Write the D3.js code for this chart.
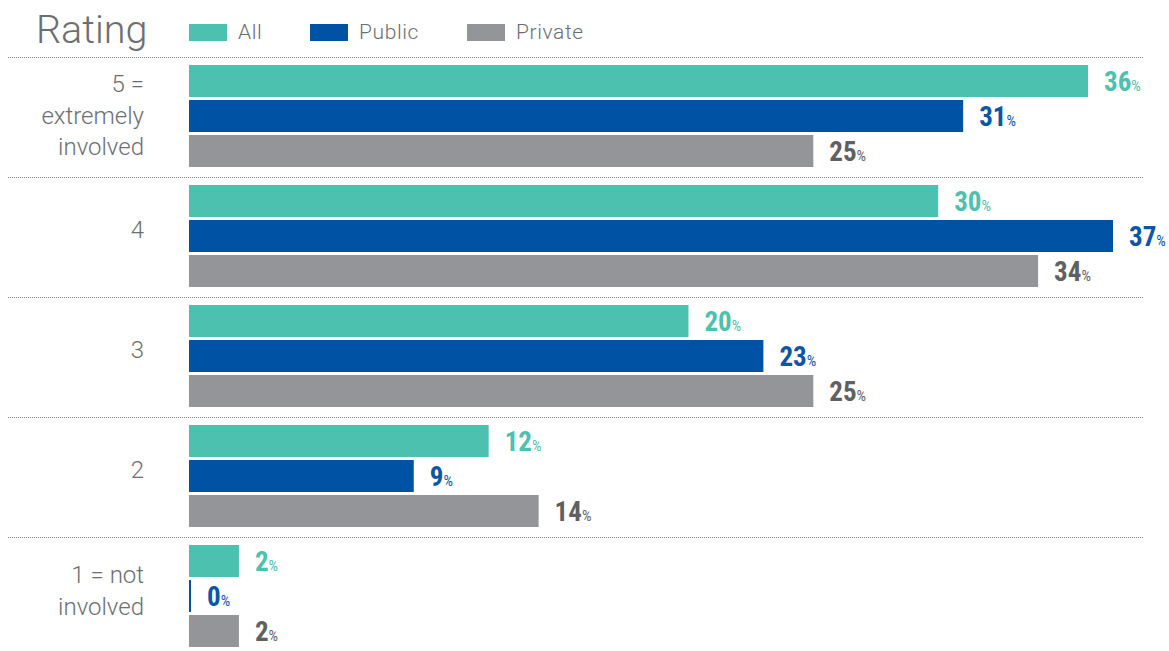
<!DOCTYPE html>
<html>
<head>
<meta charset="utf-8">
<script src="https://cdn.jsdelivr.net/npm/d3@7"></script>
<style>
  html, body { margin: 0; padding: 0; background: #fff; }
  svg { display: block; }
  .cat { font-family: Roboto, "Liberation Sans", sans-serif; font-weight: 300; fill: #6d6e71; }
  .val { font-family: "Liberation Sans Narrow", "Roboto Condensed", "Liberation Sans", sans-serif; font-weight: bold; }
</style>
</head>
<body>
<svg id="chart" width="1169" height="651"></svg>
<script>
// Ratings, top to bottom, with multi-line labels
const categories = ["5", "4", "3", "2", "1"];
const categoryLabels = [["5 =", "extremely", "involved"], ["4"], ["3"], ["2"], ["1 = not", "involved"]];
const seriesNames = ["All", "Public", "Private"];
const allValues = [36, 30, 20, 12, 2];
const publicValues = [31, 37, 23, 9, 0];
const privateValues = [25, 34, 25, 14, 2];

const barColors = ["#4cc1af", "#0053a4", "#939598"];
const labelColors = ["#4cc1af", "#0b56a6", "#5f6062"];

const svg = d3.select("#chart");
const series = [allValues, publicValues, privateValues];

const x = d3.scaleLinear().domain([0, 37]).range([189, 1113]);
const y0 = d3.scaleBand().domain(categories).range([57, 657]).paddingInner(0).paddingOuter(0);
const y1 = d3.scaleBand().domain(seriesNames).range([8, 110]).paddingInner(3 - 102 / 35).paddingOuter(0);

// Title
svg.append("text").attr("class", "cat")
  .attr("x", 36).attr("y", 43)
  .style("font-size", "39.5px")
  .text("Rating");

// Legend
const legend = svg.append("g");
const legendX = [189, 310, 467];
seriesNames.forEach((name, i) => {
  legend.append("rect").attr("x", legendX[i]).attr("y", 24).attr("width", 38).attr("height", 17).attr("fill", barColors[i]);
  legend.append("text").attr("class", "cat").attr("x", legendX[i] + 49).attr("y", 39)
    .style("font-size", "21px").style("letter-spacing", "0.6px").attr("fill", "#58595b").text(name);
});

// Dotted separators: one under the header, then one above each rating after the first
const seps = categories.map(c => y0(c));
seps.forEach(yy => {
  svg.append("line")
    .attr("x1", 8).attr("x2", 1143)
    .attr("y1", Math.round(yy) + 0.5).attr("y2", Math.round(yy) + 0.5)
    .attr("stroke", "#8a8a8a").attr("stroke-width", 1).attr("stroke-dasharray", "1,1");
});

// Groups
const groups = svg.selectAll("g.grp").data(categories).join("g")
  .attr("class", "grp")
  .attr("transform", d => `translate(0,${y0(d)})`);

groups.each(function(cat, ci) {
  const g = d3.select(this);
  seriesNames.forEach((s, si) => {
    const v = series[si][ci];
    const w = Math.max(2, x(v) - x(0));
    g.append("rect")
      .attr("x", x(0)).attr("y", y1(s))
      .attr("width", w).attr("height", y1.bandwidth())
      .attr("fill", barColors[si]);
    const t = g.append("text").attr("class", "val")
      .attr("x", x(0) + w + 16)
      .attr("y", y1(s) + y1.bandwidth() / 2 + 10)
      .attr("fill", labelColors[si]);
    t.append("tspan").style("font-size", "27px").text(v);
    t.append("tspan").style("font-size", "15px").style("font-weight", "normal").text("%");
  });
  // Category label placed beside the middle bar
  const lines = categoryLabels[ci];
  const mid = y1("Public") + y1.bandwidth() / 2;
  const lh = 31.5;
  const firstOffset = { 1: 2, 2: -13, 3: -24 }[lines.length];
  lines.forEach((ln, li) => {
    g.append("text").attr("class", "cat")
      .attr("x", 144).attr("y", mid + firstOffset + li * lh)
      .attr("text-anchor", "end")
      .style("font-size", "24px")
      .text(ln);
  });
});
</script>
</body>
</html>
